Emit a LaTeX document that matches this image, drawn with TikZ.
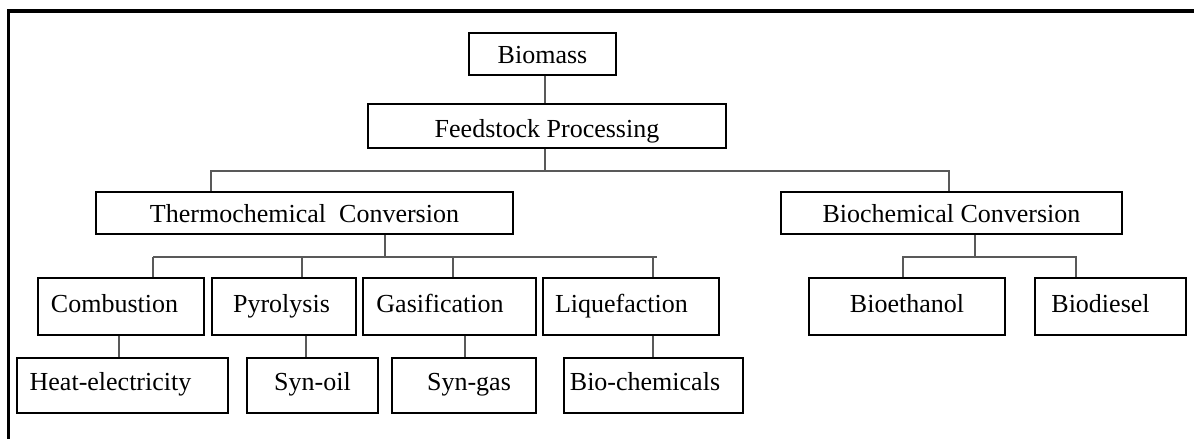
\documentclass[tikz,border=0pt]{standalone}
\usepackage{fontspec}
\setmainfont{Liberation Serif}
\begin{document}
\begin{tikzpicture}[x=1pt,y=-1pt,
  box/.style={draw=black, line width=1.4pt, fill=white, inner sep=0pt,
    font=\fontsize{26}{30}\selectfont, anchor=center},
  bl/.style={text height=#1pt+11.5pt, text depth=11.5pt-#1pt},
  conn/.style={draw=black!65, line width=2.2pt},
  frameline/.style={draw=black, line width=3.6pt}]
\useasboundingbox (0,0) rectangle (1194,439);
\fill[white] (0,0) rectangle (1194,439);
% frame
\draw[frameline] (8.5,439) -- (8.5,11) -- (1194,11);

% coordinates for buses
\coordinate (v1) at (545,0);
\coordinate (h1l) at (211,171);
\coordinate (h1r) at (949,171);
\coordinate (t2) at (385,257);
\coordinate (h2l) at (153,257);
\coordinate (h2p) at (302,257);
\coordinate (h2g) at (453,257);
\coordinate (h2q) at (653,257);
\coordinate (h2end) at (657,257);
\coordinate (b2) at (975,257);
\coordinate (h3l) at (903,257);
\coordinate (h3r) at (1076,257);
\coordinate (c3) at (119,0);
\coordinate (p3) at (306,0);
\coordinate (g3) at (465,0);
\coordinate (q3) at (653,0);

% nodes
\node[box, bl=9, minimum width=147, minimum height=42] (biomass) at (542.5,54) {Biomass};
\node[box, bl=11, minimum width=358, minimum height=44] (feed) at (547,126) {Feedstock Processing};
\node[box, bl=9.5, minimum width=417, minimum height=42] (thermo) at (304.5,213) {Thermochemical\ \ Conversion};
\node[box, bl=9.5, minimum width=341, minimum height=42] (biochem) at (951.5,213) {Biochemical Conversion};

\node[box, bl=6, minimum width=166, minimum height=57] (comb) at (121,306.5) {\hspace*{-13pt}Combustion};
\node[box, bl=6, minimum width=144, minimum height=57] (pyro) at (284,306.5) {\hspace*{-5pt}Pyrolysis};
\node[box, bl=6, minimum width=173, minimum height=57] (gasi) at (449.5,306.5) {\hspace*{-19pt}Gasification};
\node[box, bl=6, minimum width=176, minimum height=57] (liq) at (631,306.5) {\hspace*{-19pt}Liquefaction};
\node[box, bl=6, minimum width=196, minimum height=57] (bioeth) at (907,306.5) {Bioethanol};
\node[box, bl=6, minimum width=151, minimum height=57] (biodiesel) at (1110.5,306.5) {\hspace*{-20pt}Biodiesel};

\node[box, bl=4.5, minimum width=211, minimum height=55] (heat) at (122.5,385.5) {\hspace*{-24pt}Heat-electricity};
\node[box, bl=4.5, minimum width=131, minimum height=55] (synoil) at (312.5,385.5) {Syn-oil};
\node[box, bl=4.5, minimum width=144, minimum height=55] (syngas) at (464,385.5) {\hspace*{10pt}Syn-gas};
\node[box, bl=4.5, minimum width=179, minimum height=55] (biochems) at (653.5,385.5) {\hspace*{-17pt}Bio-chemicals};

% connectors
\draw[conn] (biomass.south -| v1) -- (feed.north -| v1);
\draw[conn] (feed.south -| v1) -- (h1l -| v1);
\draw[conn] (thermo.north -| h1l) -- (h1l) -- (h1r) -- (biochem.north -| h1r);

\draw[conn] (thermo.south -| t2) -- (t2);
\draw[conn] (h2l) -- (h2end);
\draw[conn] (comb.north -| h2l) -- (h2l);
\draw[conn] (pyro.north -| h2p) -- (h2p);
\draw[conn] (gasi.north -| h2g) -- (h2g);
\draw[conn] (liq.north -| h2q) -- (h2q);

\draw[conn] (biochem.south -| b2) -- (b2);
\draw[conn] (bioeth.north -| h3l) -- (h3l) -- (h3r) -- (biodiesel.north -| h3r);

\draw[conn] (comb.south -| c3) -- (heat.north -| c3);
\draw[conn] (pyro.south -| p3) -- (synoil.north -| p3);
\draw[conn] (gasi.south -| g3) -- (syngas.north -| g3);
\draw[conn] (liq.south -| q3) -- (biochems.north -| q3);
\end{tikzpicture}
\end{document}
